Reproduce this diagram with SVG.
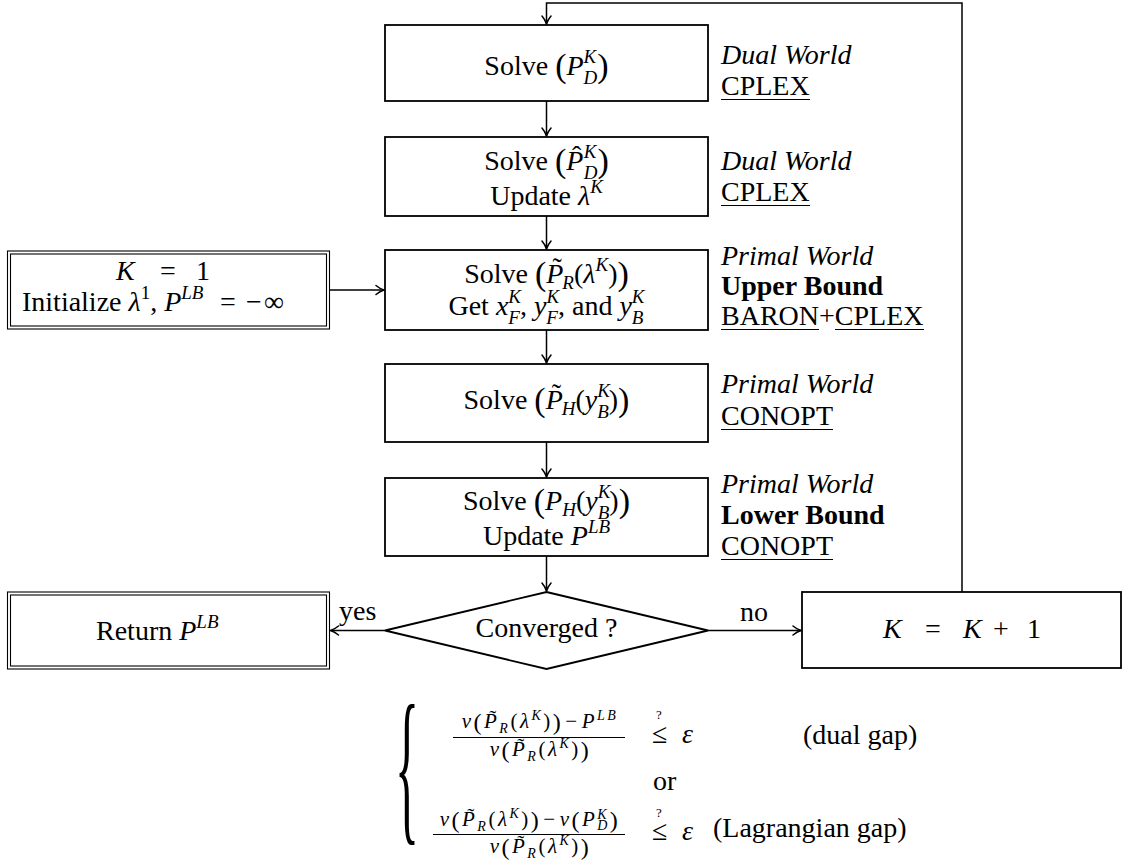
<svg xmlns="http://www.w3.org/2000/svg" width="1123" height="861" viewBox="0 0 1123 861">
<defs>
<style>
.n{fill:#fff;stroke:#000;stroke-width:1.8}
.d{fill:none;stroke:#000;stroke-width:1.1}
.c{fill:none;stroke:#000;stroke-width:1.5;marker-end:url(#arr)}
.ul{stroke:#000;stroke-width:1.2}
.bar{stroke:#000;stroke-width:1}
text{font-family:"Liberation Serif","Times New Roman",serif;font-size:28px;fill:#000}
.i{font-style:italic}
.s{font-size:19px}
.ss{font-size:14px}
.bp{font-size:34px}
.b{font-weight:bold}
.f{font-size:21px;letter-spacing:2.5px}
.fp{font-size:24px}
.q{font-size:13px}
.br{font-size:50px}
</style>
<marker id="arr" viewBox="-10 -6 12 12" refX="0" refY="0" markerWidth="12" markerHeight="12" markerUnits="userSpaceOnUse" orient="auto">
<path d="M-8,-4.5 C-5,-2 -2,-0.6 0,0 C-2,0.6 -5,2 -8,4.5" fill="none" stroke="#000" stroke-width="1.5" stroke-linecap="round"/>
</marker>
</defs>
<rect width="1123" height="861" fill="#fff"/>

<g id="connectors">
<path class="c" d="M962,592 V3 H546.5 V24"/>
<path class="c" d="M546.5,101 V136"/>
<path class="c" d="M546.5,216 V249"/>
<path class="c" d="M329.5,290 H384"/>
<path class="c" d="M546.5,330 V363"/>
<path class="c" d="M546.5,442 V477"/>
<path class="c" d="M546.5,556 V591"/>
<path class="c" d="M385,630.5 H330.5"/>
<path class="c" d="M708,630.5 H801"/>
<text x="339" y="620">yes</text>
<text x="740" y="621">no</text>
</g>

<g id="solve-pd">
<rect class="n" x="385" y="25" width="323" height="76"/>
<text x="546.5" y="75" text-anchor="middle">Solve <tspan class="bp" dy="2">(</tspan><tspan class="i" dy="-2">P</tspan><tspan class="i s" dy="-12">K</tspan><tspan class="i s" dx="-12.7" dy="21">D</tspan><tspan class="bp" dy="-7">)</tspan></text>
<text class="i" x="721" y="64">Dual World</text>
<text x="721" y="95">CPLEX</text>
<line class="ul" x1="721" y1="99.5" x2="810" y2="99.5"/>
</g>

<g id="solve-pd-hat">
<rect class="n" x="385" y="137" width="323" height="79"/>
<text x="546.5" y="170" text-anchor="middle">Solve <tspan class="bp" dy="2">(</tspan><tspan class="i" dy="-2">P</tspan><tspan dx="-11.5" dy="-5">ˆ</tspan><tspan class="i s" dx="2.5" dy="-7">K</tspan><tspan class="i s" dx="-12.7" dy="21">D</tspan><tspan class="bp" dy="-7">)</tspan></text>
<text x="546.5" y="205" text-anchor="middle">Update <tspan class="i">λ</tspan><tspan class="i s" dy="-12">K</tspan></text>
<text class="i" x="721" y="170">Dual World</text>
<text x="721" y="201">CPLEX</text>
<line class="ul" x1="721" y1="205.5" x2="810" y2="205.5"/>
</g>

<g id="init">
<rect class="d" x="7.5" y="251" width="322" height="78"/>
<rect class="d" x="10.5" y="254" width="316" height="72"/>
<text y="280"><tspan class="i" x="116">K</tspan><tspan x="160">=</tspan><tspan x="196">1</tspan></text>
<text x="22" y="311">Initialize <tspan class="i">λ</tspan><tspan class="s" dy="-12">1</tspan><tspan dy="12">, </tspan><tspan class="i">P</tspan><tspan class="i s" dy="-12">LB</tspan><tspan x="220" dy="12">=</tspan><tspan x="246">−</tspan><tspan x="264">∞</tspan></text>
</g>

<g id="solve-pr">
<rect class="n" x="385" y="250" width="323" height="80"/>
<text x="546.5" y="283" text-anchor="middle">Solve <tspan class="bp" dy="2">(</tspan><tspan class="i" dy="-2">P</tspan><tspan dx="-11" dy="-6">˜</tspan><tspan class="i s" dx="0.6" dy="12">R</tspan><tspan dy="-6">(</tspan><tspan class="i">λ</tspan><tspan class="i s" dy="-12">K</tspan><tspan dy="12">)</tspan><tspan class="bp" dy="2">)</tspan></text>
<text x="546.5" y="315" text-anchor="middle">Get <tspan class="i">x</tspan><tspan class="i s" dy="-12">K</tspan><tspan class="i s" dx="-12.7" dy="21">F</tspan><tspan dy="-9">, </tspan><tspan class="i">y</tspan><tspan class="i s" dy="-12">K</tspan><tspan class="i s" dx="-12.7" dy="21">F</tspan><tspan dy="-9">, and </tspan><tspan class="i">y</tspan><tspan class="i s" dy="-12">K</tspan><tspan class="i s" dx="-12.7" dy="21">B</tspan></text>
<text class="i" x="721" y="265">Primal World</text>
<text class="b" x="721" y="295">Upper Bound</text>
<text x="721" y="325">BARON+CPLEX</text>
<line class="ul" x1="721" y1="329.5" x2="819" y2="329.5"/>
<line class="ul" x1="835" y1="329.5" x2="924" y2="329.5"/>
</g>

<g id="solve-ph-tilde">
<rect class="n" x="385" y="364" width="323" height="78"/>
<text x="546.5" y="409" text-anchor="middle">Solve <tspan class="bp" dy="2">(</tspan><tspan class="i" dy="-2">P</tspan><tspan dx="-11" dy="-6">˜</tspan><tspan class="i s" dx="0.6" dy="12">H</tspan><tspan dy="-6">(</tspan><tspan class="i">y</tspan><tspan class="i s" dy="-12">K</tspan><tspan class="i s" dx="-12.7" dy="21">B</tspan><tspan dy="-9">)</tspan><tspan class="bp" dy="2">)</tspan></text>
<text class="i" x="721" y="393">Primal World</text>
<text x="721" y="425">CONOPT</text>
<line class="ul" x1="721" y1="429.5" x2="833" y2="429.5"/>
</g>

<g id="solve-ph">
<rect class="n" x="385" y="478" width="323" height="78"/>
<text x="546.5" y="510" text-anchor="middle">Solve <tspan class="bp" dy="2">(</tspan><tspan class="i" dy="-2">P</tspan><tspan class="i s" dy="6">H</tspan><tspan dy="-6">(</tspan><tspan class="i">y</tspan><tspan class="i s" dy="-12">K</tspan><tspan class="i s" dx="-12.7" dy="21">B</tspan><tspan dy="-9">)</tspan><tspan class="bp" dy="2">)</tspan></text>
<text x="546.5" y="545" text-anchor="middle">Update <tspan class="i">P</tspan><tspan class="i s" dy="-12">LB</tspan></text>
<text class="i" x="721" y="493">Primal World</text>
<text class="b" x="721" y="524">Lower Bound</text>
<text x="721" y="555">CONOPT</text>
<line class="ul" x1="721" y1="559.5" x2="833" y2="559.5"/>
</g>

<g id="converged">
<polygon class="n" points="546.5,592 708,630.5 546.5,669 385,630.5"/>
<text x="546.5" y="637" text-anchor="middle">Converged ?</text>
</g>

<g id="return">
<rect class="d" x="7.5" y="592" width="322" height="77"/>
<rect class="d" x="10.5" y="595" width="316" height="71"/>
<text x="96" y="640">Return <tspan class="i">P</tspan><tspan class="i s" dy="-12">LB</tspan></text>
</g>

<g id="increment">
<rect class="n" x="802" y="592" width="319" height="76"/>
<text y="638"><tspan class="i" x="883">K</tspan><tspan x="925">=</tspan><tspan class="i" x="963">K</tspan><tspan x="993">+</tspan><tspan x="1027">1</tspan></text>
</g>

<g id="criteria">
<text class="br" x="0" y="12.4" transform="translate(395,780.5) scale(1,3.37)">{</text>
<text class="f" x="540" y="728" text-anchor="middle"><tspan class="i">v</tspan><tspan class="fp" dy="1.5">(</tspan><tspan class="i" dy="-1.5">P</tspan><tspan dx="-10" dy="-3">˜</tspan><tspan class="i ss" dx="0.5" dy="8">R</tspan><tspan dy="-5">(</tspan><tspan class="i">λ</tspan><tspan class="i ss" dy="-8">K</tspan><tspan dy="8">)</tspan><tspan class="fp" dy="1.5">)</tspan><tspan dx="2" dy="-1.5">−</tspan><tspan class="i" dx="2">P</tspan><tspan class="i ss" dy="-8">LB</tspan></text>
<line class="bar" x1="453" y1="737.5" x2="625" y2="737.5"/>
<text class="f" x="540.5" y="756" text-anchor="middle"><tspan class="i">v</tspan><tspan class="fp" dy="1.5">(</tspan><tspan class="i" dy="-1.5">P</tspan><tspan dx="-10" dy="-3">˜</tspan><tspan class="i ss" dx="0.5" dy="8">R</tspan><tspan dy="-5">(</tspan><tspan class="i">λ</tspan><tspan class="i ss" dy="-8">K</tspan><tspan dy="8">)</tspan><tspan class="fp" dy="1.5">)</tspan></text>
<text class="q" x="656" y="719">?</text>
<text x="652" y="743">≤</text>
<text class="i" x="682" y="743">ε</text>
<text x="803" y="744">(dual gap)</text>
<text x="653" y="790">or</text>
<text class="f" x="530" y="826" text-anchor="middle"><tspan class="i">v</tspan><tspan class="fp" dy="1.5">(</tspan><tspan class="i" dy="-1.5">P</tspan><tspan dx="-10" dy="-3">˜</tspan><tspan class="i ss" dx="0.5" dy="8">R</tspan><tspan dy="-5">(</tspan><tspan class="i">λ</tspan><tspan class="i ss" dy="-8">K</tspan><tspan dy="8">)</tspan><tspan class="fp" dy="1.5">)</tspan><tspan dx="2" dy="-1.5">−</tspan><tspan class="i" dx="2">v</tspan><tspan class="fp" dy="1.5">(</tspan><tspan class="i" dy="-1.5">P</tspan><tspan class="i ss" dy="-7">K</tspan><tspan class="i ss" dx="-12" dy="11">D</tspan><tspan class="fp" dy="-2.5">)</tspan></text>
<line class="bar" x1="433" y1="834.5" x2="625" y2="834.5"/>
<text class="f" x="540.5" y="853" text-anchor="middle"><tspan class="i">v</tspan><tspan class="fp" dy="1.5">(</tspan><tspan class="i" dy="-1.5">P</tspan><tspan dx="-10" dy="-3">˜</tspan><tspan class="i ss" dx="0.5" dy="8">R</tspan><tspan dy="-5">(</tspan><tspan class="i">λ</tspan><tspan class="i ss" dy="-8">K</tspan><tspan dy="8">)</tspan><tspan class="fp" dy="1.5">)</tspan></text>
<text class="q" x="656" y="817">?</text>
<text x="652" y="840">≤</text>
<text class="i" x="682" y="840">ε</text>
<text x="713" y="837">(Lagrangian gap)</text>
</g>
</svg>
